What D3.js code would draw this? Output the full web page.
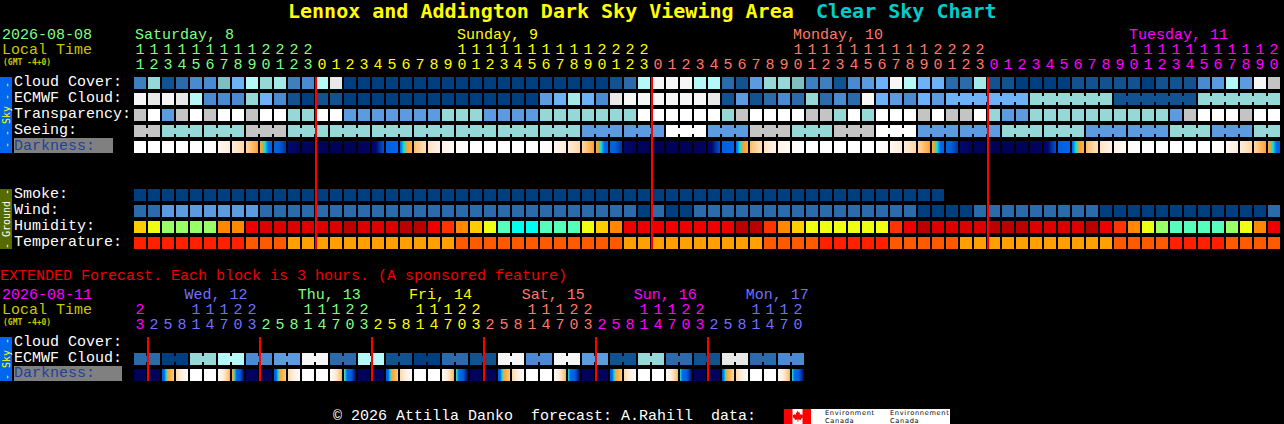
<!DOCTYPE html>
<html><head><meta charset="utf-8">
<style>
html,body{margin:0;padding:0;background:#000;overflow:hidden}
svg{display:block}
text{font-family:"Liberation Mono",monospace;font-size:15px;white-space:pre}
</style>
<script src="https://cdn.jsdelivr.net/npm/d3@7/dist/d3.min.js"></script>
</head><body><svg id="c" width="1284" height="424"></svg>
<script>
// ---------- palette levels ----------
const skyPalette=["#003f7f","#135291","#2b6bab","#3f7fbf","#4a8ad0","#5d9be0","#6db2f7","#7fbfbf","#96d8d8","#a4e8e8","#b5f8f8","#e8e8e8","#f6f6f6","#ffffff","#c4c4c4"];
const humidityPalette=["#00ffee","#55ffbb","#99ff66","#eeff11","#ffcc00","#ff8800","#ff3300","#ee0000","#dd0000","#bb0000"];
const tempPalette=["#ff2000","#ff5a00","#ffa000"];
const darkDomain=[0,0.9,1.1,1.5,2.1,2.35,2.45,2.65,4,5,6,7];
const darkRange=["#000050","#000a70","#0030a0","#0060d8","#0066ee","#00e8e8","#70c880","#ffa030","#ffd8a8","#ffecd8","#fff8f0","#ffffff"];

// ---------- main forecast ----------
const mainHours=[11,12,13,14,15,16,17,18,19,20,21,22,23,
 0,1,2,3,4,5,6,7,8,9,10,11,12,13,14,15,16,17,18,19,20,21,22,23,
 0,1,2,3,4,5,6,7,8,9,10,11,12,13,14,15,16,17,18,19,20,21,22,23,
 0,1,2,3,4,5,6,7,8,9,10,11,12,13,14,15,16,17,18,19,20];
const mainDays=["Saturday, 8","Sunday, 9","Monday, 10","Tuesday, 11"];
const mainDayLabelCells=[0,23,47,71];
const mainDayStarts=[0,13,37,61];
const mainDayColors=["#80ff80","#ffff00","#ff7868","#ff00ff"];
const mainMidnights=[13,37,61];

const cloudCover=[3,8,1,2,4,4,7,6,10,8,9,3,4,10,11,
 0,0,0,0,0,0,0,0,0,0,0,0,0,0,0,0,0,0,0,
 1,2,10,12,12,12,10,10,2,1,5,8,8,7,3,3,1,4,
 5,6,12,10,6,6,2,2,9,1,1,0,0,0,0,1,1,1,1,1,0,1,1,1,4,5,10,5,12,14];
const ecmwfCloud=[12,11,12,11,10,4,4,4,8,6,4,1,0,1,1,
 0,0,0,0,0,0,0,0,0,0,0,0,0,0,
 5,6,9,6,4,11,12,12,12,12,12,12,11,1,5,1,2,4,2,8,2,4,2,
 12,6,5,4,6,5,6,6,6,6,6,6,8,8,8,8,8,8,1,1,1,1,1,1,8,8,8,8,8,8];
const ecmwfRuns=[...Array(58).fill(1),6,6,6,6];
const transparency=[14,13,5,14,13,14,13,13,14,13,13,8,8,13,13,
 5,5,5,5,5,5,5,8,8,8,5,5,5,5,8,8,8,8,8,8,8,13,13,13,13,13,13,
 8,14,13,13,13,13,14,14,8,13,8,13,13,13,14,13,14,14,13,8,5,5,
 8,8,8,8,8,8,8,8,8,8,5,14,13,13,13,14,13,13];
const seeingRuns=[2,3,3,3,3,3,3,3,3,3,3,3,3,3,3,3,3,3,3,3,3,3,3,3,3,3,3,2];
const seeingLevels=[14,8,8,14,8,8,8,8,8,8,8,5,5,13,5,14,8,14,13,5,5,8,8,5,5,8,5,8];
const darkFrom=[7,7,7,7,7,7,6,5,4,2.75,1.8,0.8,0.3,0.35,0.2,0.2,0.2,0.6,1.6,2.05,3.3,4.5,5.6,6.3,
 7,7,7,7,7,7,6,5,4,2.75,1.8,0.8,0.3,0.2,0.2,0.2,0.2,0.6,1.6,2.05,3.3,4.5,5.6,6.3,
 7,7,7,7,7,7,6,5,4,2.75,1.8,0.8,0.3,0.2,0.2,0.2,0.2,0.6,1.6,2.05,3.3,4.5,5.6,6.3,
 7,7,7,7,7,7,6,5,4,2.75];
const darkTo=[7,7,7,7,7,6.3,5,4,2.65,1.8,1.1,0.4,0.2,0.3,0.2,0.2,0.5,1.4,2,3,4.4,5.5,6.2,7,
 7,7,7,7,7,6.2,5,4,2.65,1.8,1.1,0.4,0.2,0.2,0.2,0.2,0.5,1.4,2,3,4.4,5.5,6.2,7,
 7,7,7,7,7,6.2,5,4,2.65,1.8,1.1,0.4,0.2,0.2,0.2,0.2,0.5,1.4,2,3,4.4,5.5,6.2,7,
 7,7,7,7,7,6.2,5,4,2.65,1.8];
const smoke=Array(58).fill(0);
const wind=[2,2,5,5,5,5,5,5,5,2,2,2,2,2,2,2,2,2,2,2,2,2,2,2,2,2,2,2,2,2,2,2,2,2,2,2,0,2,0,0,
 2,2,2,2,2,2,2,2,2,2,2,2,2,2,2,2,0,0,0,0,2,2,2,2,2,2,2,2,2,0,0,0,0,0,0,0,0,0,0,0,0,2];
const humidity=[4,3,2,2,2,2,5,5,7,8,8,8,8,8,8,9,8,8,8,9,9,
 7,6,5,4,3,1,0,0,1,1,1,3,4,5,7,7,7,7,7,7,7,7,9,9,6,5,4,3,3,3,3,
 3,3,6,7,9,8,8,8,8,9,9,9,8,8,8,8,9,7,6,5,3,2,1,1,1,1,2,3,5,7];
const temperature=[0,0,0,0,0,0,0,0,1,1,1,2,2,2,2,2,2,2,2,2,2,2,2,
 1,1,1,1,1,1,1,1,1,1,1,1,2,2,2,2,2,2,2,2,2,2,1,1,1,1,0,0,0,
 0,0,1,1,1,1,1,2,2,2,2,2,2,2,2,2,2,2,1,1,1,1,0,0,0,0,1,1,1,1];

// ---------- extended forecast ----------
const extHours=[23,2,5,8,11,14,17,20,23,2,5,8,11,14,17,20,23,2,5,8,11,14,17,20,23,2,5,8,11,14,17,20,23,2,5,8,11,14,17,20,23,2,5,8,11,14,17,20];
const extDays=["Wed, 12","Thu, 13","Fri, 14","Sat, 15","Sun, 16","Mon, 17"];
const extDayLabelCells=[3.6,11.7,19.65,27.7,35.7,43.7];
const extDayStarts=[0,1,9,17,25,33,41];
const extDayColors=["#ff00ff","#7070ff","#80ff80","#ffff00","#ff7868","#ff00ff","#7070ff"];
const extMidnights=[1,9,17,25,33,41];
const extEcmwf=[2,2,0,0,8,8,10,10,4,4,5,5,12,12,2,2,10,10,1,1,0,0,2,2,1,1,12,12,4,4,12,12,5,5,1,1,8,8,2,2,1,1,11,11,2,2,4,4];
const extRuns=Array(24).fill(2);
const extDarkFrom=[0.2,0.2,1.7,4,7,7,6.5,2.8,0.3,0.2,1.7,4,7,7,6.5,2.5,0.2,0.2,1.7,4,7,7,6.5,2.45,0.2,0.2,1.7,4,7,7,6.5,2.4,0.2,0.2,1.7,4,7,7,6.5,2.4,0.2,0.2,1.8,4,7,7,6.5,2.4];
const extDarkTo=[0.3,0.3,3.6,6.6,7,7,3,0.8,0.3,0.2,3.6,6.6,7,7,3,0.8,0.2,0.3,3.6,6.6,7,7,3,0.8,0.3,0.2,3.6,6.6,7,7,3,0.8,0.2,0.3,3.6,6.6,7,7,3,0.8,0.2,0.3,4,6.6,7,7,3,0.8];

// ---------- text ----------
const titleMain="Lennox and Addington Dark Sky Viewing Area";
const titleSub="Clear Sky Chart";
const skyLabels=["Cloud Cover:","ECMWF Cloud:","Transparency:","Seeing:"];
const groundLabels=["Smoke:","Wind:","Humidity:","Temperature:"];
const extLabels=["Cloud Cover:","ECMWF Cloud:"];

// ---------- scales ----------
const svg=d3.select("#c");
svg.append("rect").attr("width",1284).attr("height",424).attr("fill","#000");
const defs=svg.append("defs");
const mainX=d3.scaleBand().domain(d3.range(82)).range([134,134+82*14-2]).paddingInner(2/14).paddingOuter(0);
const extX=d3.scaleBand().domain(d3.range(48)).range([134,134+48*14-2]).paddingInner(2/14).paddingOuter(0);
const rowY=d3.scaleLinear().domain([0,1]).range([77,93]);      // main rows
const extY=d3.scaleLinear().domain([0,1]).range([337,353]);    // extended rows
const skyColor=d3.scaleOrdinal().domain(d3.range(skyPalette.length)).range(skyPalette);
const humColor=d3.scaleOrdinal().domain(d3.range(humidityPalette.length)).range(humidityPalette);
const tempColor=d3.scaleOrdinal().domain(d3.range(tempPalette.length)).range(tempPalette);
const darkColor=d3.scaleLinear().domain(darkDomain).range(darkRange).interpolate(d3.interpolateRgb).clamp(true);
const CELL_H=12;

function text(str,x,y,fill,extra){
  const t=svg.append("text").attr("x",x).attr("y",y).attr("fill",fill).text(str);
  if(extra) extra(t);
  return t;
}
function row(x,y,vals,color,cls){
  svg.append("g").attr("class",cls).attr("shape-rendering","crispEdges")
   .selectAll("rect").data(vals).join("rect")
   .attr("x",(d,i)=>x(i)).attr("y",y).attr("width",x.bandwidth()).attr("height",CELL_H)
   .attr("fill",d=>color(d));
}
function joins(x,y,vals,runs,color){
  const idx=[];let p=0;
  runs.forEach(r=>{for(let k=0;k<r-1;k++)idx.push(p+k);p+=r;});
  svg.append("g").attr("shape-rendering","crispEdges")
   .selectAll("rect").data(idx).join("rect")
   .attr("x",i=>x(i)+x.bandwidth()).attr("y",y+3)
   .attr("width",x.step()-x.bandwidth()).attr("height",CELL_H-6)
   .attr("fill",i=>color(vals[i]));
}
function darkRow(x,y,from,to,prefix){
  from.forEach((f,i)=>{
    const g=defs.append("linearGradient").attr("id",prefix+i);
    d3.range(13).forEach(k=>{
      const t=k/12;
      g.append("stop").attr("offset",t).attr("stop-color",darkColor(f+(to[i]-f)*t));
    });
  });
  svg.append("g").attr("shape-rendering","crispEdges")
   .selectAll("rect").data(from).join("rect")
   .attr("x",(d,i)=>x(i)).attr("y",y).attr("width",x.bandwidth()).attr("height",CELL_H)
   .attr("fill",(d,i)=>`url(#${prefix}${i})`);
}
function dayColor(i,starts,colors){return colors[d3.bisectRight(starts,i)-1];}
function hourLabels(x,hours,starts,colors,yTens,yOnes){
  const g=svg.append("g");
  g.selectAll("text.o").data(hours).join("text").attr("class","o")
   .attr("x",(d,i)=>x(i)+x.bandwidth()/2).attr("y",yOnes).attr("text-anchor","middle")
   .attr("fill",(d,i)=>dayColor(i,starts,colors)).text(d=>d%10);
  g.selectAll("text.t").data(hours.map((h,i)=>({h,i})).filter(d=>d.h>=10)).join("text").attr("class","t")
   .attr("x",d=>x(d.i)+x.bandwidth()/2).attr("y",yTens).attr("text-anchor","middle")
   .attr("fill",d=>dayColor(d.i,starts,colors)).text(d=>Math.floor(d.h/10));
}
function sideBar(x,y,h,fill,str,color){
  svg.append("rect").attr("x",x).attr("y",y).attr("width",12).attr("height",h).attr("fill",fill).attr("shape-rendering","crispEdges");
  svg.append("text").attr("transform",`translate(${x+9.5},${y+h/2}) rotate(-90)`)
   .attr("text-anchor","middle").attr("fill",color)
   .style("font-family","'DejaVu Sans Mono',monospace").style("font-size","10px").text(str);
}
const BOLD="'DejaVu Sans Mono',monospace";

// ---------- title ----------
text(titleMain,288,18,"#ffff00",t=>t.attr("font-weight","bold").style("font-family",BOLD).style("font-size","20px"));
text(titleSub,816,18,"#00cccc",t=>t.attr("font-weight","bold").style("font-family",BOLD).style("font-size","20px"));

// ---------- main header ----------
text("2026-08-08",2,39,"#80ff80");
text("Local Time",2,54,"#c8c800");
text("(GMT -4+0)",3,64.5,"#c8c800",t=>t.style("font-size","8px").attr("font-weight","bold").style("font-family",BOLD));
mainDays.forEach((d,i)=>{
  text(d,mainX(mainDayLabelCells[i])+1,39,mainDayColors[i]);
});
hourLabels(mainX,mainHours,mainDayStarts,mainDayColors,54,69);

// ---------- sidebars ----------
sideBar(0,77,76,"#0066ee","- - Sky - -","#ffff00");
sideBar(0,189,60,"#556b00","- Ground -","#ffffff");
sideBar(0,337,44,"#0066ee","- Sky -","#ffff00");

// ---------- main rows ----------
skyLabels.forEach((l,i)=>text(l,14,rowY(i)+9,"#ffffff"));
svg.append("rect").attr("x",14).attr("y",138).attr("width",99).attr("height",15).attr("fill","#808080");
text("Darkness:",14,149.5,"#2040a0");

row(mainX,rowY(0),cloudCover,skyColor,"cloud");
row(mainX,rowY(1),ecmwfCloud,skyColor,"ecmwf");
joins(mainX,rowY(1),ecmwfCloud,ecmwfRuns,skyColor);
row(mainX,rowY(2),transparency,skyColor,"transparency");
const seeing=[];seeingRuns.forEach((r,i)=>{for(let k=0;k<r;k++)seeing.push(seeingLevels[i]);});
row(mainX,rowY(3),seeing,skyColor,"seeing");
joins(mainX,rowY(3),seeing,seeingRuns,skyColor);
darkRow(mainX,rowY(4),darkFrom,darkTo,"md");

groundLabels.forEach((l,i)=>text(l,14,rowY(7+i)+9,"#ffffff"));
row(mainX,rowY(7),smoke,skyColor,"smoke");
row(mainX,rowY(8),wind,skyColor,"wind");
row(mainX,rowY(9),humidity,humColor,"humidity");
row(mainX,rowY(10),temperature,tempColor,"temperature");

svg.append("g").attr("shape-rendering","crispEdges").selectAll("rect").data(mainMidnights).join("rect")
 .attr("x",d=>mainX(d)-1).attr("y",rowY(0)).attr("width",2).attr("height",rowY(10)+CELL_H-rowY(0)).attr("fill","#ff0000");

// ---------- extended ----------
text("EXTENDED Forecast. Each block is 3 hours. (A sponsored feature)",0,280,"#f00000");
text("2026-08-11",2,299,"#ff00ff");
text("Local Time",2,314,"#c8c800");
text("(GMT -4+0)",3,324.5,"#c8c800",t=>t.style("font-size","8px").attr("font-weight","bold").style("font-family",BOLD));
extDays.forEach((d,i)=>text(d,extX(0)+extDayLabelCells[i]*14,299,extDayColors[i+1]));
hourLabels(extX,extHours,extDayStarts,extDayColors,314,329);
extLabels.forEach((l,i)=>text(l,14,extY(i)+8.5,"#ffffff"));
svg.append("rect").attr("x",14).attr("y",366).attr("width",108).attr("height",15).attr("fill","#808080");
text("Darkness:",14,377,"#2040a0");
row(extX,extY(1),extEcmwf,skyColor,"ext-ecmwf");
joins(extX,extY(1),extEcmwf,extRuns,skyColor);
darkRow(extX,extY(2),extDarkFrom,extDarkTo,"ed");
svg.append("g").attr("shape-rendering","crispEdges").selectAll("rect").data(extMidnights).join("rect")
 .attr("x",d=>extX(d)-1).attr("y",extY(0)).attr("width",2).attr("height",44).attr("fill","#ff0000");

// ---------- footer ----------
text("\u00a9 2026 Attilla Danko  forecast: A.Rahill  data:",333,420,"#ffffff");
svg.append("rect").attr("x",784).attr("y",409).attr("width",166).attr("height",15).attr("fill","#fff");
svg.append("rect").attr("x",784).attr("y",409).attr("width",8.5).attr("height",15).attr("fill","#ff0000");
svg.append("rect").attr("x",802.5).attr("y",409).attr("width",8.5).attr("height",15).attr("fill","#ff0000");
svg.append("path").attr("fill","#ff0000")
 .attr("d","M797.5 410.5l1.4 2.2 1.2-.5-.4 2.8 1.5-1.2.5 1.1 1.6-.2-.6 1.7.8.5-2.6 2.1.3 1-2.9-.4.1 2.2h-.9l.1-2.2-2.9.4.3-1-2.6-2.1.8-.5-.6-1.7 1.6.2.5-1.1 1.5 1.2-.4-2.8 1.2.5z");
[["Environment",825,"Canada"],["Environnement",890,"Canada"]].forEach(([a,x,b])=>{
  [a,b].forEach((s,i)=>svg.append("text").attr("x",x).attr("y",415+i*7.6).attr("fill","#000")
    .style("font-family","'DejaVu Sans',sans-serif").style("font-size","6.6px").style("letter-spacing","0.7px").text(s));
});
</script></body></html>
